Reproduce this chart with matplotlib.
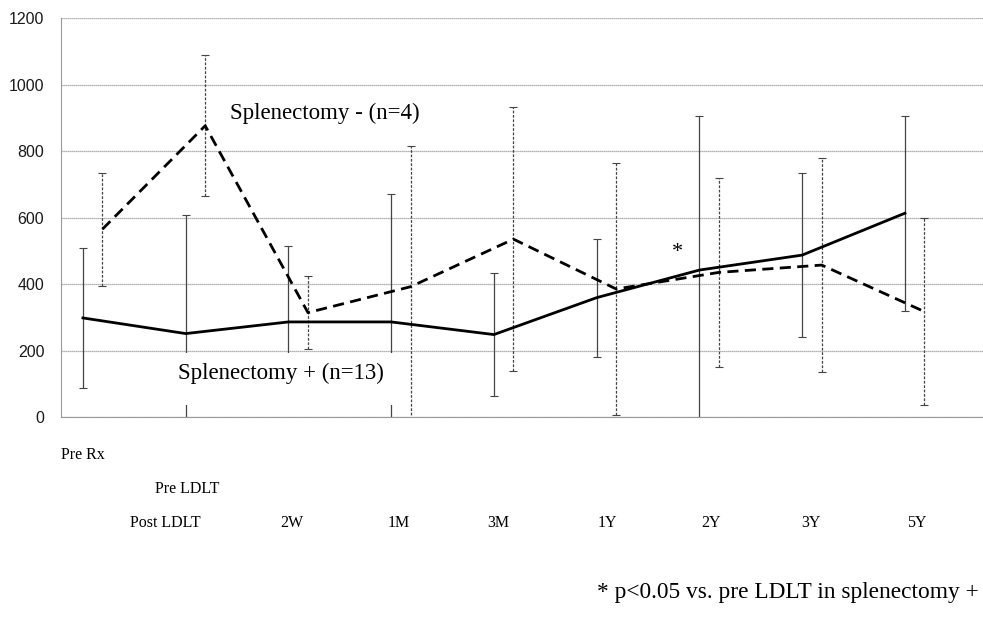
import matplotlib
matplotlib.use("Agg")
import matplotlib.pyplot as plt
from matplotlib.patches import Rectangle
import numpy as np

# time points (one per x position)
points = ["Pre Rx", "Pre LDLT", "Post LDLT", "2W", "1M", "3M", "1Y", "2Y", "3Y", "5Y"]

# splenectomy + (n=13): mean and SD
plus_mean = [298, 251, 286, 286, 248, 359, 442, 487, 613]
plus_sd = [210, 357, 227, 384, 184, 177, 464, 246, 293]

# splenectomy - (n=4): mean and SD
minus_mean = [565, 876, 314, 392, 535, 385, 435, 457, 317]
minus_sd = [170, 212, 110, 424, 398, 378, 284, 321, 281]

yticks = [0, 200, 400, 600, 800, 1000, 1200]

serif = ["Liberation Serif", "DejaVu Serif"]

fig = plt.figure(figsize=(9.83, 6.17), dpi=100)
ax = fig.add_axes([0.062, 0.3241, 0.938, 0.6467])

x = np.arange(len(plus_mean))
x_minus = x + 0.19

# solid line + error bars
ax.errorbar(x, plus_mean, yerr=plus_sd, fmt="none", ecolor="#444444",
            elinewidth=0.9, capsize=3, capthick=0.8, zorder=2)
ax.plot(x, plus_mean, color="black", lw=2.0, zorder=4)

# dashed line + dashed error bars
eb = ax.errorbar(x_minus, minus_mean, yerr=minus_sd, fmt="none", ecolor="#444444",
                 elinewidth=0.9, capsize=3, capthick=0.8, zorder=2)
for lc in eb[2]:
    lc.set_linestyle((0, (2.2, 1.3)))
ax.plot(x_minus, minus_mean, color="black", lw=2.0, dashes=(4, 2.3), zorder=4)

ax.set_xlim(-0.214, 8.76)
ax.set_ylim(0, 1200)
ax.set_yticks(yticks)
ax.set_yticklabels([str(v) for v in yticks], fontsize=11.5,
                   family=["Liberation Sans", "DejaVu Sans"], color="#1a1a1a")
ax.tick_params(axis="y", length=0, pad=12)
ax.set_xticks([])
ax.grid(axis="y", color="#9a9a9a", lw=0.9, ls=(0, (1, 0.6)))
ax.set_axisbelow(True)
for s in ["top", "right"]:
    ax.spines[s].set_visible(False)
ax.spines["left"].set_color("#9a9a9a")
ax.spines["bottom"].set_color("#9a9a9a")
ax.spines["bottom"].set_linestyle((0, (1, 0.6)))

# group labels inside the plot
ax.text(1.43, 914, "Splenectomy - (n=4)", fontsize=16.5, family=serif,
        va="center", ha="left", zorder=6,
        bbox=dict(boxstyle="square,pad=0.3", fc="white", ec="none"))
# white backdrop of the lower label (hides the error bars behind it)
ax.add_patch(Rectangle((0.85, 36), 2.23, 157, fc="white", ec="none", zorder=5))
ax.text(0.925, 132, "Splenectomy + (n=13)", fontsize=16.5, family=serif,
        va="center", ha="left", zorder=6)
ax.text(5.79, 496, "*", fontsize=16, family=serif, ha="center", va="center")

# x labels in three staggered rows below the axis
trans = ax.get_xaxis_transform()
label_x = [0.0, 1.01, 0.80, 2.03, 3.07, 4.04, 5.10, 6.11, 7.09, 8.12]
label_row = [0, 1, 2, 2, 2, 2, 2, 2, 2, 2]
row_y = [-0.095, -0.18, -0.265]
for lab, lx, r in zip(points, label_x, label_row):
    ax.text(lx, row_y[r], lab, transform=trans, fontsize=11.5, family=serif,
            ha="center", va="center", clip_on=False)

fig.text(0.607, 0.0405, "* p<0.05 vs. pre LDLT in splenectomy +", fontsize=16.8,
         family=serif, ha="left", va="center")

fig.savefig("out.png", dpi=100)
